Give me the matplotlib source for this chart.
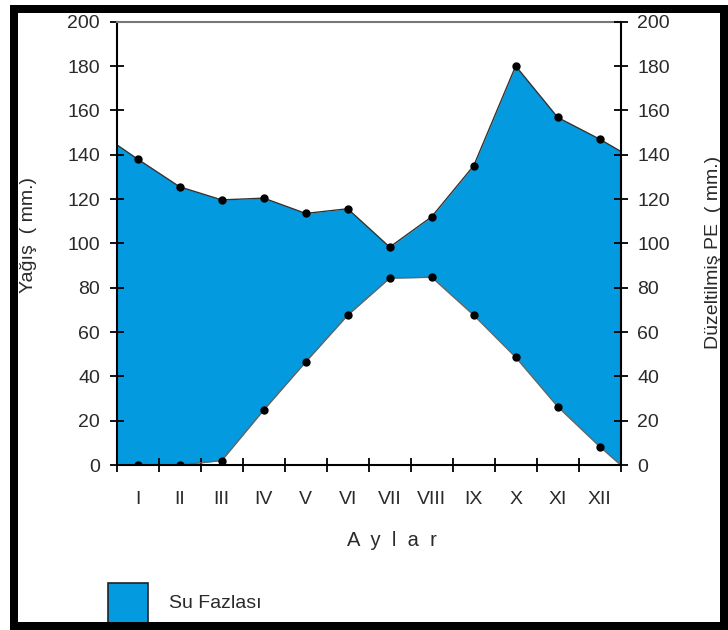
import matplotlib
matplotlib.use("Agg")
import matplotlib.pyplot as plt
from matplotlib.patches import Rectangle
import numpy as np

plt.rcParams['font.family'] = ['Liberation Sans', 'DejaVu Sans']

months = ["I", "II", "III", "IV", "V", "VI", "VII", "VIII", "IX", "X", "XI", "XII"]
precip = [138, 125.5, 119.6, 120.4, 113.5, 115.6, 98.3, 112, 135, 180, 156.8, 147]
pe = [0, 0, 2, 24.8, 46.5, 67.6, 84.3, 84.7, 67.6, 48.6, 26.3, 8.3]
precip_edges = [144.5, 141.5]
pe_edges = [0, 0]

fill_color = '#049ADF'
text_color = '#2a2a2a'

W, H = 728, 630
fig = plt.figure(figsize=(W / 100, H / 100), dpi=100)

ax_l, ax_r, ax_t, ax_b = 116.7, 620.7, 21.7, 465
ax = fig.add_axes([ax_l / W, 1 - ax_b / H, (ax_r - ax_l) / W, (ax_b - ax_t) / H])

n = len(months)
xm = np.arange(n) + 0.5
x_full = np.concatenate([[0], xm, [n]])
up_full = np.concatenate([[precip_edges[0]], precip, [precip_edges[1]]])
lo_full = np.concatenate([[pe_edges[0]], pe, [pe_edges[1]]])

ax.fill_between(x_full, lo_full, up_full, color=fill_color, lw=0, zorder=1)
ax.plot(x_full, up_full, color='#333333', lw=1.0, zorder=2)
ax.plot(x_full, lo_full, color='#666666', lw=1.0, zorder=2)
ax.plot(xm, precip, 'o', color='black', ms=5, zorder=3)
ax.plot(xm, pe, 'o', color='black', ms=5, zorder=3)

ax.set_xlim(0, n)
ax.set_ylim(0, 200)
ax.set_yticks(np.arange(0, 201, 20))
ax.set_xticks(np.arange(0, n + 1))
ax.set_xticklabels([])
ax.set_xticks(xm, minor=True)
ax.set_xticklabels(months, minor=True)
ax.tick_params(axis='x', which='major', direction='inout', length=10, width=1.3, color='black')
ax.tick_params(axis='x', which='minor', length=0, pad=19, labelsize=14, labelcolor=text_color)
ax.tick_params(axis='y', direction='inout', length=10, width=1.3, pad=7, labelsize=14, labelcolor=text_color)

for s in ['left', 'right', 'bottom']:
    ax.spines[s].set_color('black')
    ax.spines[s].set_linewidth(1.5)
ax.spines['top'].set_color('#777777')
ax.spines['top'].set_linewidth(1.5)

ax2 = ax.twinx()
ax2.set_ylim(0, 200)
ax2.set_yticks(np.arange(0, 201, 20))
ax2.tick_params(axis='y', direction='inout', length=10, width=1.3, pad=7, labelsize=14, labelcolor=text_color)
for s in ax2.spines.values():
    s.set_visible(False)

fig.text(29 / W, 1 - 235 / H, "Yağış  ( mm.)", rotation=90, ha='center', va='center',
         fontsize=14, color=text_color)
fig.text(714 / W, 1 - 252 / H, "Düzeltilmiş PE  ( mm.)", rotation=90, ha='center', va='center',
         fontsize=14, color=text_color)
fig.text(392 / W, 1 - 540 / H, "A  y  l  a  r", ha='center', va='center',
         fontsize=14.5, color=text_color)

# legend
fig.patches.append(Rectangle((108 / W, 1 - 623 / H), 40 / W, 40 / H, transform=fig.transFigure,
                             facecolor=fill_color, edgecolor='#222222', lw=1.2, zorder=5))
fig.text(169 / W, 1 - 604 / H, "Su Fazlası", ha='left', va='center', fontsize=14, color=text_color)

# outer frame
fig.patches.append(Rectangle((14 / W, 1 - 626 / H), 710 / W, 617 / H, transform=fig.transFigure,
                             facecolor='none', edgecolor='black', lw=8 * 0.72, zorder=10))

fig.savefig("out.png", dpi=100)
